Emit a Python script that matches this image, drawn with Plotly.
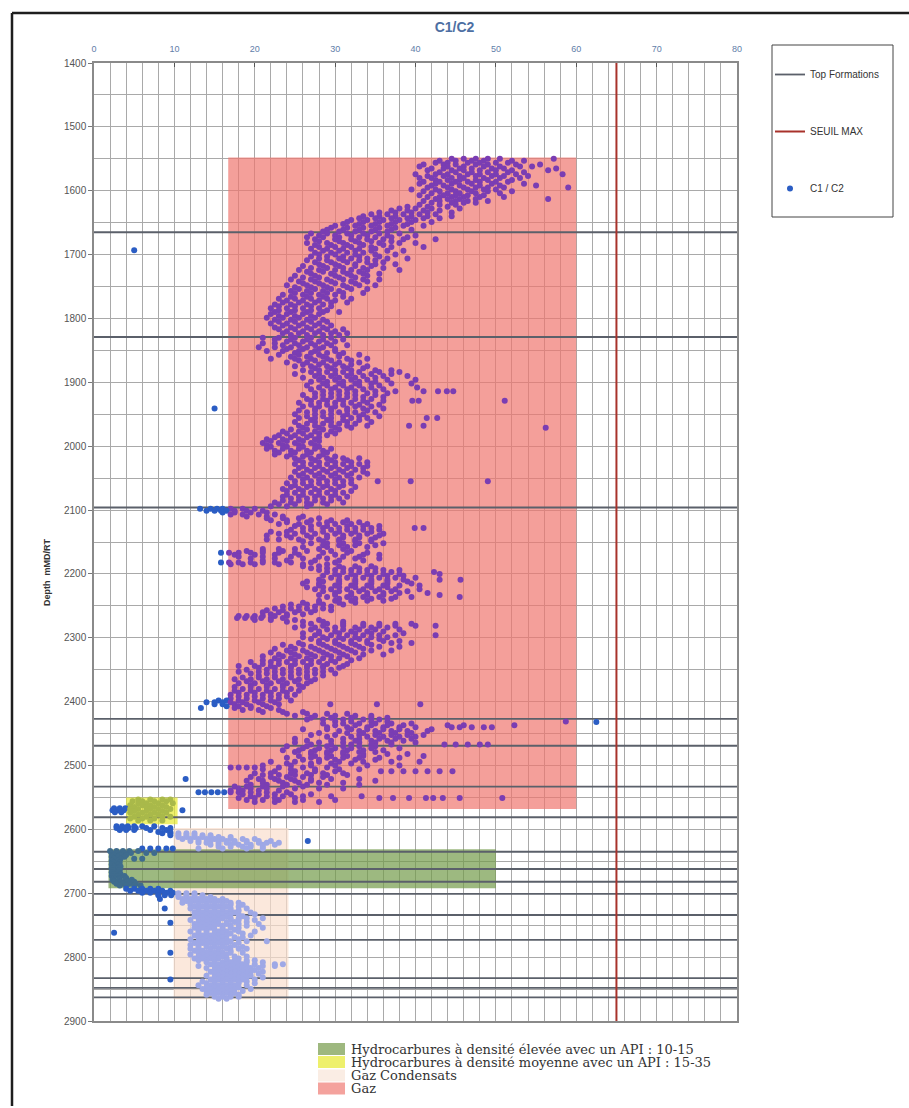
import plotly.graph_objects as go

# ---------------------------------------------------------------------------
# Axis limits
# ---------------------------------------------------------------------------
X_MIN, X_MAX = 0, 80
DEPTH_TOP, DEPTH_BOTTOM = 1400, 2900

# Formation tops (mMD/RT)
formation_tops = [1665, 1829, 2096, 2427, 2469, 2533, 2581, 2635, 2662,
                  2682, 2701, 2734, 2773, 2833, 2848, 2863]

# Threshold on C1/C2
seuil_max = 65

# Interpretation zones: name, C1/C2 from, C1/C2 to, depth from, depth to
zone_names = ["Hydrocarbures à densité élevée avec un API : 10-15",
              "Hydrocarbures à densité moyenne avec un API : 15-35",
              "Gaz Condensats",
              "Gaz"]
zone_x0 = [1.8, 4.0, 9.9, 16.7]
zone_x1 = [50.0, 10.4, 24.2, 60.0]
zone_d0 = [2631, 2550, 2598, 1548]
zone_d1 = [2692, 2592, 2866, 2568]
zone_fill = ["rgba(116,155,74,0.7)", "rgba(231,234,45,0.7)",
             "rgba(250,222,205,0.7)", "rgba(240,118,111,0.7)"]
zone_swatch = ["#9EB87F", "#EEF06C", "#FAEDE4", "#F4A29D"]
# colour of the C1/C2 points seen through each zone
zone_point_color = ["#3F6C8E", "#A9B94A", "#9EA8E6", "#7A3DB3"]
point_color_default = "#2B5DC4"

# ---------------------------------------------------------------------------
# C1/C2 readings: [depth, value, value, ...]
# ---------------------------------------------------------------------------
c1c2_isolated = [
    [1693, 5], [1941, 15], [2432, 62.5], [2521, 11.4], [2570, 11],
    [2618, 26.6], [2709, 8.2], [2724, 8.8], [2746, 9.5], [2762, 2.5],
    [2793, 9.5], [2835, 9.5],
]

c1c2_1548_1665 = [
    [1550, 44.5, 46, 47.5, 49, 50.5, 57.2],
    [1553, 43, 45, 47, 48.5, 52, 53.5],
    [1556, 42.5, 44, 46.5, 48, 50, 51.5],
    [1559, 41, 43.5, 45, 47.5, 49, 52.5, 55.5],
    [1562, 40.5, 44, 46, 48.5, 50.5, 53, 54.5],
    [1565, 42, 43.5, 45.5, 47, 49.5, 51, 57.5],
    [1568, 41.5, 44.5, 46, 48, 50, 52, 56.5],
    [1571, 43, 45, 47, 49, 51.5, 53.5],
    [1574, 40, 42.5, 44, 46.5, 48, 50, 52.5, 58.3],
    [1577, 41.5, 43.5, 45.5, 47.5, 49.5, 51, 54],
    [1580, 40.5, 42, 44.5, 46, 48.5, 50.5, 53],
    [1583, 42.5, 44, 45.5, 47.5, 49, 52],
    [1586, 41, 43, 45, 46.5, 48, 50, 51.5],
    [1589, 40.5, 42.5, 44.5, 47, 49.5, 53.5],
    [1592, 42, 43.5, 45.5, 48, 50.5, 55],
    [1595, 41.5, 44, 46, 47.5, 49, 51, 59],
    [1598, 39.5, 42.5, 44.5, 46.5, 48.5, 50],
    [1601, 41, 43, 45, 47, 49, 52],
    [1604, 42, 44, 45.5, 47.5, 50.5],
    [1607, 40.5, 43.5, 45, 46.5, 48.5],
    [1610, 41.5, 43, 44.5, 46, 48, 51],
    [1613, 42.5, 44, 45.5, 47.5, 56.5],
    [1616, 41, 43, 45, 46.5, 49],
    [1619, 42, 44.5, 46, 47.5],
    [1622, 40.5, 43, 45],
    [1625, 39, 41.5, 44],
    [1628, 38, 40, 42, 45.5],
    [1631, 37, 39, 41, 43],
    [1634, 35.5, 37.5, 39.5, 41.5, 44.5],
    [1637, 34.5, 36.5, 38.5, 40.5, 42.5],
    [1640, 33.5, 35.5, 37.5, 39.5, 41.5, 44.5],
    [1643, 33, 35, 37, 39, 41, 43],
    [1646, 32, 34, 36, 38, 40],
    [1649, 31.5, 33.5, 35.5, 37.5, 39.5, 42],
    [1652, 31, 33, 35, 37, 39],
    [1655, 30, 32.5, 34.5, 36.5, 38.5, 41],
    [1658, 29.5, 31.5, 33.5, 35.5, 37.5],
    [1661, 29, 31, 33, 35, 37, 39.5],
    [1664, 28.5, 30.5, 32.5, 34.5, 36.5],
]

c1c2_1665_1829 = [
    [1667, 27, 29, 31.5, 33.5, 35.5, 38],
    [1670, 28, 30, 32, 34, 36.5, 40],
    [1673, 26.5, 28.5, 30.5, 33, 35, 37, 39],
    [1676, 27.5, 30, 32, 34, 36, 38.5, 42.5],
    [1679, 28, 30.5, 32.5, 34.5, 37],
    [1682, 26.5, 29, 31, 33, 35.5, 38, 40],
    [1685, 27.5, 29.5, 31.5, 33.5, 36],
    [1688, 28, 30, 32, 34.5, 37, 41],
    [1691, 27, 29, 31, 33, 35],
    [1694, 28.5, 30.5, 32.5, 34.5, 36.5, 38.5],
    [1697, 27.5, 29.5, 31.5, 33.5],
    [1700, 28, 30, 32.5, 35, 37.5],
    [1703, 27, 29, 31, 33, 35.5],
    [1706, 28, 30.5, 32, 34, 36.5, 39],
    [1709, 26.5, 29, 31, 33, 35],
    [1712, 27.5, 29.5, 31.5, 34, 36],
    [1715, 28, 30, 32.5, 35, 37.5],
    [1718, 26, 28.5, 30.5, 32.5, 34.5],
    [1721, 27, 29, 31, 33.5, 36],
    [1724, 25.5, 28, 30, 32, 34, 38],
    [1727, 26.5, 28.5, 31, 33],
    [1730, 27, 29.5, 31.5, 33.5, 35.5],
    [1733, 25, 27.5, 30, 32, 34],
    [1736, 26, 28, 30.5, 32.5],
    [1739, 24.5, 27, 29, 31, 33.5, 35.5],
    [1742, 25.5, 27.5, 29.5, 32, 34],
    [1745, 26, 28, 30, 32.5],
    [1748, 24, 26.5, 28.5, 31, 33, 35],
    [1751, 25, 27, 29, 31.5],
    [1754, 25.5, 27.5, 29.5, 32, 34],
    [1757, 24.5, 26.5, 28.5, 30.5],
    [1760, 25, 27, 29, 31, 33.5],
    [1763, 23.5, 26, 28, 30],
    [1766, 24.5, 26.5, 28.5, 31],
    [1769, 23, 25, 27, 29, 32],
    [1772, 24, 26, 28, 30],
    [1775, 23.5, 25.5, 27.5, 29.5, 31.5],
    [1778, 22.5, 24.5, 26.5, 28.5],
    [1781, 23, 25, 27, 29.5],
    [1784, 22, 24, 26, 28],
    [1787, 23, 25, 27, 29],
    [1790, 22.5, 24.5, 26.5, 28.5, 30.5],
    [1793, 22, 24, 26, 28],
    [1796, 23, 25, 27],
    [1799, 21.5, 23.5, 25.5, 27.5],
    [1802, 22.5, 24.5, 26.5, 28.5],
    [1805, 23, 25, 27, 29],
    [1808, 22, 24, 26, 28],
    [1811, 23.5, 25.5, 27.5, 29.5],
    [1814, 22.5, 24.5, 26.5, 28.5],
    [1817, 23, 25, 27, 29, 31],
    [1820, 24, 26, 28, 30],
    [1823, 23.5, 25.5, 27.5, 29.5, 31.5],
    [1826, 24.5, 26.5, 28.5, 30.5],
]

c1c2_1829_2096 = [
    [1830, 21, 23, 25, 27, 29.5],
    [1833, 22.5, 24.5, 26.5, 28.5, 31],
    [1836, 24, 26, 28, 30],
    [1839, 21, 22.5, 25, 27, 29],
    [1842, 23.5, 25.5, 27.5, 29.5, 31.5],
    [1845, 20.5, 22.5, 24.5, 26.5, 28.5],
    [1848, 24, 26, 28, 30],
    [1851, 21.5, 23.5, 25.5, 27.5, 30],
    [1854, 25, 27, 29, 31],
    [1857, 23, 25.5, 28, 30.5, 33],
    [1860, 24.5, 26.5, 28.5, 30.5],
    [1863, 22, 25, 27, 29, 31.5, 34],
    [1866, 25.5, 27.5, 29.5, 32],
    [1869, 24, 26.5, 28.5, 30.5, 33],
    [1872, 26, 28, 30, 32],
    [1875, 25, 27, 29, 31, 34],
    [1878, 27.5, 29.5, 31.5, 33.5],
    [1881, 26, 28, 30, 32, 35, 37],
    [1884, 27, 29, 31, 33, 35.5, 38],
    [1887, 25, 28, 30, 32, 34.5, 37],
    [1890, 27.5, 29.5, 31.5, 33.5, 36, 39],
    [1893, 26, 28.5, 30.5, 32.5, 35],
    [1896, 28, 30, 32, 34, 36.5, 40],
    [1899, 27, 29, 31, 33, 35],
    [1902, 28.5, 30.5, 32.5, 34.5, 37, 39.5],
    [1905, 26.5, 29, 31, 33, 35.5],
    [1908, 28, 30, 32, 34.5, 40.2],
    [1911, 27, 29.5, 31.5, 33.5, 36],
    [1914, 28.5, 30.5, 32.5, 35, 37.5, 41, 42.8, 43.9, 44.7],
    [1917, 27.5, 29.5, 31.5, 34, 36.5],
    [1920, 26, 28.5, 30.5, 32.5, 35],
    [1923, 27.5, 29.5, 31.5, 33.5, 36],
    [1926, 26.5, 28.5, 30.5, 32.5, 34.5],
    [1929, 27, 29, 31, 33.5, 36, 39.6, 40.4, 51.1],
    [1932, 25.5, 28, 30, 32, 34],
    [1935, 27, 29, 31, 33, 35.5],
    [1938, 26, 28, 30, 32.5, 34.5],
    [1941, 27.5, 29.5, 31.5, 33.5, 36],
    [1944, 25.5, 27.5, 29.5, 31.5, 34],
    [1947, 26.5, 28.5, 30.5, 32.5, 35],
    [1950, 25, 27.5, 29.5, 31.5, 33.5],
    [1953, 26.5, 28.5, 31, 33, 35.5],
    [1956, 25.5, 27.5, 29.5, 32, 34, 41.4, 42.7],
    [1959, 27, 29, 31, 33],
    [1962, 25, 27.5, 29.5, 31.5, 34.5],
    [1965, 26.5, 28.5, 30.5, 32.5],
    [1968, 25.5, 27.5, 29.5, 31.5, 34, 39.2, 41],
    [1971, 26, 28, 30, 32, 56.2],
    [1974, 24.5, 26.5, 28.5, 30.5],
    [1977, 23.5, 25.5, 27.5, 29.5],
    [1980, 24, 26, 28, 30],
    [1983, 23, 25, 27, 29],
    [1986, 22.5, 24.5, 26.5, 28],
    [1989, 21.5, 23.5, 25.5, 27.5],
    [1992, 22, 24, 26, 28],
    [1995, 21, 23, 25, 27],
    [1998, 21.5, 23.5, 25.5, 27.5],
    [2001, 22, 24, 26, 28],
    [2004, 21.5, 23.5, 25.5, 27.5, 29.5],
    [2007, 22.5, 24.5, 26.5, 28.5],
    [2010, 23, 25, 27, 29],
    [2013, 22.5, 24.5, 26.5, 28.5],
    [2016, 24, 26, 28, 30],
    [2019, 25, 27, 29, 31, 33],
    [2022, 25.5, 27.5, 29.5, 31.5],
    [2025, 26, 28, 30, 32, 34],
    [2028, 25, 27, 29, 31, 33],
    [2031, 26, 28, 30, 32, 34],
    [2034, 25.5, 27.5, 29.5, 31.5, 33.5],
    [2037, 26.5, 28.5, 30.5, 32.5],
    [2040, 25, 27, 29, 31, 33.5],
    [2043, 26, 28, 30, 32, 34],
    [2046, 25.5, 27.5, 29.5, 31.5],
    [2049, 24.5, 26.5, 28.5, 30.5, 33],
    [2052, 26, 28, 30, 32],
    [2055, 25, 27, 29, 31, 35.3, 39.4, 49],
    [2058, 24, 26, 28, 30, 32],
    [2061, 25, 27, 29, 31],
    [2064, 24.5, 26.5, 28.5, 30.5, 32.5],
    [2067, 23.5, 25.5, 27.5, 29.5],
    [2070, 24, 26, 28, 30, 32],
    [2073, 25, 27, 29, 31],
    [2076, 24, 26, 28, 30],
    [2079, 23.5, 25.5, 27.5, 29.5, 31.5],
    [2082, 24.5, 26.5, 28.5, 30.5],
    [2085, 23.5, 25.5, 27.5, 29.5],
    [2088, 22.5, 24.5, 26.5, 28.5, 31],
    [2091, 23, 25, 27, 29],
    [2094, 22, 24, 26.5],
]

c1c2_2096_2427 = [
    [2098, 13.2, 14.5, 15.3, 16, 17, 18.5, 20],
    [2101, 14, 15, 15.8, 16.5, 17.5, 19, 21],
    [2104, 16, 17.5, 19.5, 21.5],
    [2107, 17, 18.5, 20.5, 22.5],
    [2110, 19, 21.5, 23.5, 26],
    [2113, 21.5, 23.5, 25.5, 28],
    [2116, 22, 24, 27, 29.5, 31.5],
    [2119, 24, 26.5, 29, 31, 33],
    [2122, 23, 25.5, 28, 30, 32, 34],
    [2125, 25, 27, 29, 31.5, 33.5, 35.5],
    [2128, 26, 28.5, 30.5, 32.5, 34.5, 39.9, 41],
    [2131, 24.5, 27, 29.5, 31.5, 33.5, 35.5],
    [2134, 22, 24, 26, 28.5, 30.5, 32.5, 34.5],
    [2137, 23, 25, 27.5, 30, 32, 34, 36],
    [2140, 21.5, 24, 26.5, 29, 31, 33, 35.5],
    [2143, 24.5, 27, 29, 31, 33, 35],
    [2146, 21.5, 23, 25.5, 28, 30.5, 32.5, 34.5],
    [2149, 26, 28.5, 30.5, 32.5, 34.5],
    [2152, 27, 29, 31, 33, 36],
    [2155, 28.5, 30.5, 32.5, 35],
    [2158, 26, 29, 31.5, 34],
    [2161, 21, 23, 25, 28, 31],
    [2164, 19, 21, 23.5, 26.5, 29.5, 32],
    [2167, 15.8, 16.8, 18, 19.5, 21, 23, 25, 28.5, 31.5, 34],
    [2170, 17.5, 20, 22.5, 25.5, 30, 33.5, 35.5],
    [2173, 18, 21, 24.5, 28, 31, 33],
    [2176, 19.5, 22.5, 26, 29, 32.5, 35.5],
    [2179, 21, 24, 27.5, 30.5, 33.5],
    [2182, 15.8, 16.8, 18, 19.5, 21, 22.5, 24.5, 27, 30],
    [2185, 17, 18.5, 20, 23, 26, 29],
    [2188, 26, 28, 30.5, 32.5, 34.5],
    [2191, 27, 29, 31, 33, 35],
    [2194, 28, 30, 32, 34, 36, 38],
    [2197, 29, 31, 33, 35, 37, 42.3],
    [2200, 30, 32, 34, 36, 38, 43],
    [2203, 28.5, 30.5, 32.5, 34.5, 36.5, 38.5],
    [2206, 29.5, 31.5, 33.5, 35.5, 37.5, 40],
    [2209, 28, 30.5, 32.5, 34.5, 36.5, 38.5, 43, 45.6],
    [2212, 26.5, 28.5, 30.5, 32.5, 34.5, 36.5, 39],
    [2215, 26, 28, 30.5, 32.5, 34.5, 36.5, 39.5],
    [2218, 28, 30, 32, 34, 36, 38, 40.5],
    [2221, 26.5, 28.5, 30.5, 32.5, 34.5, 36.5],
    [2224, 27.5, 29.5, 31.5, 33.5, 35.5, 37.5, 40.5],
    [2227, 28.5, 30.5, 33, 35, 37, 39],
    [2230, 30, 32, 34, 36, 38, 41.5],
    [2233, 28, 30, 32, 34, 36, 43],
    [2236, 29, 31.5, 33.5, 35.5, 37.5, 39.5, 45.5],
    [2239, 30.5, 32.5, 34.5, 37],
    [2242, 28, 30, 32, 34, 36],
    [2245, 26, 28, 30.5, 32.5],
    [2248, 24.5, 26.5, 28.5, 31],
    [2251, 23.5, 25.5, 27.5, 29.5],
    [2254, 22.5, 24.5, 26.5, 28.5],
    [2257, 21.5, 23.5, 25.5, 27.5, 29.5],
    [2260, 21, 23, 25, 27],
    [2263, 22, 24, 26],
    [2266, 18, 19, 20, 21, 22.5, 24],
    [2269, 17.8, 18.8, 19.8, 20.8, 22, 23.5],
    [2272, 20, 22, 25, 28],
    [2275, 24, 26, 28.5, 31],
    [2278, 27, 29, 31, 33.5, 35.5, 37.5, 39.5],
    [2281, 26, 28.5, 31, 33.5, 35.5, 37.5, 40, 42.5],
    [2284, 25, 27.5, 30, 32.5, 34.5, 36.5],
    [2287, 27, 29, 31, 33, 35, 38],
    [2290, 28, 30, 32, 34, 36],
    [2293, 26, 28, 30.5, 32.5, 34.5, 38.5],
    [2296, 27.5, 29.5, 31.5, 33.5, 35.5, 37.5, 42.5],
    [2299, 26, 28.5, 30.5, 32.5, 34.5, 36.5],
    [2302, 27, 29, 31, 33, 35.5],
    [2305, 28, 30, 32, 34, 36, 38],
    [2308, 25.5, 28, 30, 32, 34, 37, 39.5],
    [2311, 23.5, 26, 28.5, 30.5, 32.5, 34.5],
    [2314, 24.5, 27, 29, 31, 33, 35.5, 38],
    [2317, 22.5, 25, 27.5, 29.5, 31.5, 33.5],
    [2320, 24, 26, 28, 30, 32, 34.5, 37],
    [2323, 22, 24.5, 26.5, 28.5, 30.5, 32.5],
    [2326, 23, 25, 27, 29, 31, 33.5, 36],
    [2329, 21, 23.5, 25.5, 27.5, 29.5, 31.5],
    [2332, 22.5, 24.5, 26.5, 28.5, 30.5, 33],
    [2335, 21, 23, 25, 27, 29.5, 32],
    [2338, 19.5, 22, 24, 26, 28, 30],
    [2341, 21, 23, 25, 27, 29, 31.5],
    [2344, 18, 20, 22, 24.5, 26.5, 28.5, 31],
    [2347, 20.5, 22.5, 24.5, 26.5, 28.5, 30.5],
    [2350, 19, 21.5, 23.5, 25.5, 27.5, 29.5],
    [2353, 18, 20.5, 22.5, 24.5, 26.5, 28.5],
    [2356, 19.5, 21.5, 23.5, 25.5, 27.5, 30],
    [2359, 20.5, 22.5, 24.5, 26.5, 28.5],
    [2362, 18.5, 20.5, 22.5, 24.5, 26.5],
    [2365, 17.5, 19.5, 21.5, 23.5, 25.5, 27.5],
    [2368, 19, 21, 23, 25, 27],
    [2371, 18, 20, 22, 24, 26.5],
    [2374, 19.5, 21.5, 23.5, 25.5],
    [2377, 17.5, 19.5, 21.5, 23.5, 26],
    [2380, 18.5, 20.5, 22.5, 24.5],
    [2383, 17.5, 19.5, 21.5, 23.5, 25.5],
    [2386, 18, 20, 22, 24],
    [2389, 17, 19, 21, 23, 25],
    [2392, 18, 20, 22, 24],
    [2395, 17, 19, 21, 23],
    [2398, 15.5, 16.5, 18, 20, 22, 24.5],
    [2401, 14, 15, 16, 17, 18.5, 20.5, 22.5],
    [2404, 15, 16, 17.5, 19, 21, 23, 29.4, 35.2, 40.6],
    [2407, 16.5, 18, 19.5, 21.5],
    [2410, 13.3, 17.5, 19.5, 22],
    [2413, 18.5, 20.5, 23],
    [2416, 21, 23.5, 26],
    [2419, 24, 26.5, 29, 31.5],
    [2422, 25, 27.5, 30, 32.5, 34.5],
]

c1c2_2427_2568 = [
    [2425, 27, 29.5, 32, 34.5, 36.5],
    [2428, 26.5, 28.5, 31, 33.5, 35.5],
    [2431, 30, 32, 34.5, 36.5, 58.7],
    [2434, 28.5, 31, 33, 35, 37, 39.5],
    [2437, 30, 32.5, 34.5, 36.5, 38.5, 44, 46, 52.3],
    [2440, 29, 31.5, 34, 36, 38, 40, 44.5, 45.5, 47, 48.5, 49.5],
    [2443, 26, 29, 32, 34, 36, 38, 42],
    [2446, 30.5, 33, 35, 37, 39, 41.5],
    [2449, 28, 31.5, 33.5, 35.5, 37.5, 39.5],
    [2452, 27, 30, 33, 35, 37, 39, 41],
    [2455, 29, 32, 34, 36, 38, 40],
    [2458, 25, 31, 33, 35.5, 37.5, 39.5],
    [2461, 26.5, 29.5, 32.5, 34.5, 36.5, 38.5],
    [2464, 25, 28, 31, 33, 35, 37, 40],
    [2467, 27, 29.5, 32, 34.5, 37, 43.6, 45, 46.5, 48, 49],
    [2470, 24, 26.5, 29, 31, 33, 35],
    [2473, 26, 28, 30, 32, 34.5, 38],
    [2476, 23.5, 25.5, 27.5, 29.5, 31.5, 33.5, 36],
    [2479, 25, 27, 29, 31, 33, 35],
    [2482, 27, 29, 31, 33.5, 36.5, 39],
    [2485, 25.5, 27.5, 29.5, 31.5, 33.5, 41],
    [2488, 24, 27, 29, 31, 33, 35.5, 38],
    [2491, 26, 28, 30, 32.5, 35],
    [2494, 22, 25, 28, 30.5, 33.5, 37, 40.5],
    [2497, 24, 27, 29.5, 32],
    [2500, 21, 24.5, 27, 30, 34, 38],
    [2503, 17, 18, 19, 20, 23, 26, 29],
    [2506, 21, 24.5, 27.5, 30.5, 33],
    [2509, 22.5, 25, 27.5, 30, 35.7, 37, 38.5, 40, 41.5, 43, 44.6],
    [2512, 20, 22, 24.5, 26.5, 28.5, 31],
    [2515, 21, 23, 25, 27, 29, 31.5],
    [2518, 19.5, 22, 24, 26, 28.5],
    [2521, 20.5, 22.5, 24.5, 27, 29.5, 33],
    [2524, 19, 21, 23, 25, 27, 35],
    [2527, 21, 23.5, 25.5, 28, 31],
    [2530, 19.5, 21.5, 24, 26.5, 29, 33],
    [2533, 17.5, 19, 21, 23.5, 26],
    [2536, 18, 19.5, 21.5, 25, 28, 31],
    [2539, 17, 18.5, 20.5, 23],
    [2542, 13, 13.8, 14.6, 15.4, 16.2, 17, 18, 19.5, 21.5, 24],
    [2545, 18.5, 20.5, 22.5, 24.5, 27],
    [2548, 19.5, 21.5, 23.5, 26, 29.5, 33.3],
    [2551, 18, 20, 22.5, 25, 35.5, 37.2, 39.2, 41.3, 42.2, 43.4, 45.5, 50.8],
    [2554, 19, 21, 23, 26, 30],
    [2557, 20, 22.5, 25, 28],
]

c1c2_2550_2700 = [
    [2553, 5.5, 7, 8.5, 9.5],
    [2556, 4.8, 6, 7.5, 9],
    [2559, 5.5, 6.5, 8, 9.8],
    [2562, 4.5, 6, 7, 8.5],
    [2565, 5, 6.5, 7.5, 9],
    [2567, 2.5, 3.2, 3.9],
    [2568, 4.5, 5.5, 7, 8, 9.5],
    [2570, 2.3, 3, 3.7],
    [2571, 5, 6.5, 8.5],
    [2573, 2.6, 3.4],
    [2574, 4.5, 6, 7.5, 9],
    [2577, 5.5, 7, 8],
    [2580, 5, 6.5, 8.5, 9.5],
    [2583, 4.5, 6, 7.5],
    [2586, 5.5, 7, 8.5],
    [2595, 2.8, 3.5, 4.2, 5, 6, 7.5],
    [2598, 2.8, 3.5, 4.3, 5.2, 6.5, 8.5, 9.5],
    [2601, 3.2, 4, 5, 7, 9],
    [2604, 8, 9.5],
    [2606, 8.5, 9.5, 10.5, 11.5, 12.5],
    [2609, 9.5, 10.5, 11.5, 12.5, 13.5, 14.5],
    [2612, 10.5, 11.5, 12.5, 13.5, 14.5, 15.5, 17],
    [2615, 11, 12, 13, 14, 15, 16, 17, 18.5, 20],
    [2618, 12, 13, 14.5, 15.5, 16.5, 17.5, 19, 20.5, 22],
    [2621, 13, 14, 15.5, 16.5, 17.5, 19, 20.5, 21.5, 23],
    [2624, 14.5, 15.5, 17, 18, 19.5, 21, 22.5],
    [2627, 15.5, 17, 18.5, 19.5, 21],
    [2630, 6, 7, 8, 9, 9.8, 13, 16, 19, 21],
    [2634, 2, 2.8, 3.6, 4.4, 5.5],
    [2637, 2.2, 3, 3.8, 4.6, 6.5, 7.5],
    [2640, 2.4, 3.2, 4],
    [2643, 2.2, 3, 3.8],
    [2646, 2.5, 3.3, 5, 6],
    [2649, 2.2, 3],
    [2652, 2.4, 3.2],
    [2655, 2.2, 3],
    [2658, 2.5, 3.3],
    [2661, 2.2, 3],
    [2664, 2.4, 3.2],
    [2667, 2.2, 3],
    [2670, 2.5, 3.3],
    [2673, 2.2, 3, 3.8],
    [2676, 2.4, 3.2, 4],
    [2679, 2.3, 3.1, 3.9, 4.7],
    [2682, 2.5, 3.3, 4.1, 5],
    [2685, 2.8, 3.6, 4.4, 5.2],
    [2688, 3.2, 4, 5, 5.8],
    [2693, 4, 5, 6, 7, 8],
    [2696, 4.5, 5.5, 6.5, 7.5, 8.5, 9.5],
    [2699, 6, 7, 8, 9, 9.8],
    [2703, 8, 8.8, 9.6],
]

c1c2_2700_2866 = [
    [2700, 10.5, 11.5, 12.5],
    [2703, 10.5, 11.5, 12.5, 13.5],
    [2706, 10.5, 11.5, 12.5, 13.5, 14.5],
    [2709, 11, 12, 13, 14, 15, 16],
    [2712, 11.5, 12.5, 13.5, 14.5, 15.5, 16.5],
    [2715, 11, 12, 13, 14, 15, 16, 17, 18],
    [2718, 12, 13, 14, 15, 16, 17, 18.5],
    [2721, 12.5, 13.5, 14.5, 15.5, 16.5, 18],
    [2724, 12, 13, 14, 15, 16, 17, 19],
    [2727, 13, 14, 15, 16, 17, 18],
    [2730, 12.5, 13.5, 14.5, 15.5, 16.5, 17.5, 19.5],
    [2733, 13, 14, 15, 16, 17, 18, 20],
    [2736, 12.5, 13.5, 14.5, 15.5, 16.5, 18.5],
    [2739, 13, 14, 15, 16, 17, 18, 19, 21],
    [2742, 12, 13.5, 14.5, 15.5, 17, 18, 20],
    [2745, 13, 14, 15, 16.5, 17.5, 19],
    [2748, 12.5, 13.5, 14.5, 15.5, 16.5, 18, 20.5],
    [2751, 13, 14, 15, 16, 17, 19],
    [2754, 12.5, 13.5, 14.5, 16, 17, 18, 21],
    [2757, 13, 14, 15, 16, 17.5],
    [2760, 12, 13, 14, 15.5, 16.5, 18, 20],
    [2763, 13, 14, 15, 16, 17, 18.5],
    [2766, 12.5, 13.5, 14.5, 15.5, 16.5, 19.5],
    [2769, 13, 14, 15, 16, 17.5, 18.5],
    [2772, 12, 13.5, 14.5, 15.5, 16.5, 18],
    [2775, 13, 14, 15, 16, 17, 19, 21.5],
    [2778, 12.5, 13.5, 14.5, 15.5, 16.5, 18],
    [2781, 12, 13, 14, 15, 16, 17.5],
    [2784, 13, 14, 15, 16, 17, 18.5],
    [2787, 12, 13, 14.5, 15.5, 16.5, 18, 19],
    [2790, 12.5, 13.5, 14.5, 15.5, 17],
    [2793, 13, 14, 15, 16, 17, 18.5],
    [2796, 12, 13.5, 14.5, 15.5, 16.5],
    [2799, 13, 14, 15, 16, 17.5, 19],
    [2802, 12.5, 13.5, 14.5, 15.5, 16.5, 18],
    [2805, 13, 14, 15, 16.5, 17.5, 19, 20],
    [2808, 14, 15, 16, 17, 18, 19, 21],
    [2811, 14.5, 15.5, 16.5, 17.5, 18.5, 20, 22.5, 23.5],
    [2814, 13, 15, 16, 17, 18, 19, 21, 22.5],
    [2817, 14, 15.5, 16.5, 17.5, 18.5, 19.5, 20.5],
    [2820, 15, 16, 17, 18, 19, 20],
    [2823, 14.5, 15.5, 16.5, 17.5, 18.5, 19.5, 21],
    [2826, 15, 16, 17, 18, 19, 20.5],
    [2829, 14, 15.5, 16.5, 17.5, 18.5, 19.5],
    [2832, 15, 16, 17, 18, 19, 21],
    [2835, 14.5, 15.5, 16.5, 17.5, 18.5, 20],
    [2838, 13.5, 15, 16, 17, 18, 19],
    [2841, 14, 15, 16, 17, 18, 20],
    [2844, 13, 14.5, 15.5, 16.5, 17.5, 19],
    [2847, 14, 15, 16, 17, 18],
    [2850, 13.5, 14.5, 15.5, 16.5, 17.5, 19.5],
    [2853, 14, 15, 16, 17, 18.5],
    [2856, 14.5, 15.5, 16.5, 17.5],
    [2859, 14, 15, 16, 17, 18],
    [2862, 15, 16, 17, 18],
    [2865, 15.5, 16.5],
]

# ---------------------------------------------------------------------------
# Flatten the readings
# ---------------------------------------------------------------------------
depth_m, c1_c2 = [], []
for block in (c1c2_isolated, c1c2_1548_1665, c1c2_1665_1829, c1c2_1829_2096,
              c1c2_2096_2427, c1c2_2427_2568, c1c2_2550_2700, c1c2_2700_2866):
    for row in block:
        for v in row[1:]:
            depth_m.append(row[0])
            c1_c2.append(v)


def point_color(x, d):
    # zones are checked in drawing priority (topmost first)
    for i in range(len(zone_names)):
        if zone_x0[i] <= x <= zone_x1[i] and zone_d0[i] <= d <= zone_d1[i]:
            return zone_point_color[i]
    return point_color_default


point_colors = [point_color(x, d) for x, d in zip(c1_c2, depth_m)]

# ---------------------------------------------------------------------------
# Page geometry (pixels)
# ---------------------------------------------------------------------------
W, H = 909, 1108
PL, PR, PT, PB = 94, 737, 63, 1021


def px(xp):
    return (xp - PL) / (PR - PL)


def py(yp):
    return (PB - yp) / (PB - PT)


fig = go.Figure()

# interpretation zones (drawn in reverse so the first listed sits on top)
for i in reversed(range(len(zone_names))):
    fig.add_trace(go.Scatter(
        x=[zone_x0[i], zone_x1[i], zone_x1[i], zone_x0[i], zone_x0[i]],
        y=[zone_d0[i], zone_d0[i], zone_d1[i], zone_d1[i], zone_d0[i]],
        mode="lines", fill="toself", fillcolor=zone_fill[i],
        line=dict(width=0), hoverinfo="skip", showlegend=False,
    ))

# formation tops
ft_x, ft_y = [], []
for d in formation_tops:
    ft_x += [X_MIN, X_MAX, None]
    ft_y += [d, d, None]
fig.add_trace(go.Scatter(
    x=ft_x, y=ft_y, mode="lines", name="Top Formations",
    line=dict(color="#5b606a", width=1.8), legendgroup="a",
))

# threshold
fig.add_trace(go.Scatter(
    x=[seuil_max, seuil_max], y=[DEPTH_TOP, DEPTH_BOTTOM], mode="lines",
    name="SEUIL MAX", line=dict(color="#A8322B", width=2), legendgroup="b",
))

# C1/C2 readings
fig.add_trace(go.Scatter(
    x=c1_c2, y=depth_m, mode="markers", name="C1 / C2",
    marker=dict(color=point_colors, size=6, symbol="circle",
                line=dict(width=0)),
    legendgroup="c",
))

shapes = [
    # outer frame
    dict(type="line", xref="paper", yref="paper", x0=px(12), x1=px(12),
         y0=py(13), y1=py(1106), line=dict(color="#1e1e1e", width=2.5)),
    dict(type="line", xref="paper", yref="paper", x0=px(12), x1=px(909),
         y0=py(13), y1=py(13), line=dict(color="#1e1e1e", width=2.5)),
    # legend box
    dict(type="rect", xref="paper", yref="paper", x0=px(772), x1=px(893),
         y0=py(217), y1=py(45), line=dict(color="#444", width=1)),
]

annotations = [
    dict(text="<b>Depth  mMD/RT</b>", xref="paper", yref="paper",
         x=px(40), y=py(573), textangle=-90, showarrow=False,
         font=dict(family="Liberation Sans, Arial", size=9, color="#333")),
]

# zone legend
row_y = [1049, 1062, 1075.5, 1088.5]
for i, name in enumerate(zone_names):
    shapes.append(dict(type="rect", xref="paper", yref="paper",
                       x0=px(318), x1=px(345), y0=py(row_y[i] + 6), y1=py(row_y[i] - 6),
                       fillcolor=zone_swatch[i], line=dict(width=0)))
    annotations.append(dict(text=name, xref="paper", yref="paper",
                            x=px(349), y=py(row_y[i]), xanchor="left", yanchor="middle",
                            showarrow=False,
                            font=dict(family="DejaVu Serif, Liberation Serif",
                                      size=13, color="#333")))

fig.update_layout(
    width=W, height=H, autosize=False,
    margin=dict(l=PL, r=W - PR, t=PT, b=H - PB),
    paper_bgcolor="white", plot_bgcolor="white",
    font=dict(family="Liberation Sans, Arial", color="#444"),
    title=dict(text="<b>C1/C2</b>", x=0.5, xref="container", y=1 - 27 / H,
               yref="container", yanchor="middle", xanchor="center",
               font=dict(size=14, color="#4d6fa3")),
    showlegend=True,
    legend=dict(x=px(770), y=py(60), xanchor="left", yanchor="top",
                bgcolor="rgba(0,0,0,0)", borderwidth=0, tracegroupgap=38,
                font=dict(size=10, color="#333")),
    shapes=shapes,
    annotations=annotations,
)

fig.update_xaxes(
    range=[X_MIN, X_MAX], side="top", dtick=10, tick0=0,
    showgrid=True, gridcolor="#a9a9a9", gridwidth=1,
    minor=dict(dtick=2, showgrid=True, gridcolor="#a9a9a9", gridwidth=1),
    showline=True, linecolor="#8a8a8a", linewidth=1.5, mirror=True,
    ticks="inside", ticklen=4, tickcolor="#555", ticklabelstandoff=6,
    tickfont=dict(size=9, color="#5f7ea9"), zeroline=False,
)
fig.update_yaxes(
    range=[DEPTH_BOTTOM, DEPTH_TOP], dtick=100, tick0=1400,
    showgrid=True, gridcolor="#a9a9a9", gridwidth=1,
    minor=dict(dtick=50, showgrid=True, gridcolor="#a9a9a9", gridwidth=1),
    showline=True, linecolor="#8a8a8a", linewidth=1.5, mirror=True,
    ticks="outside", ticklen=4, tickcolor="#777",
    tickfont=dict(size=10, color="#555"), zeroline=False,
)

fig.write_html("out.html")
